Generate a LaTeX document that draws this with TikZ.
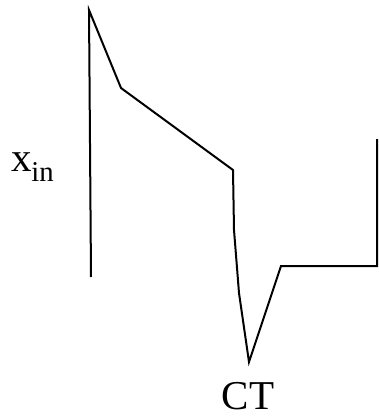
\documentclass[tikz,border=0pt]{standalone}
\usepackage{fontspec}
\setmainfont{Liberation Serif}
\begin{document}
\begin{tikzpicture}[x=1pt,y=-1pt,line width=2pt,
  lbl/.style={inner sep=0pt,font=\fontsize{41}{45}\selectfont}]
\useasboundingbox (0,0) rectangle (378,420);
\coordinate (a) at (91,277);
\coordinate (b) at (89,10);
\coordinate (c) at (121,88);
\coordinate (d) at (233,170);
\coordinate (e) at (234,230);
\coordinate (f) at (239,293);
\coordinate (g) at (249,362);
\coordinate (h) at (281,266);
\coordinate (i) at (377,266);
\coordinate (j) at (377,139);
\draw[line join=miter] (a) -- (b) -- (c) -- (d) -- (e) -- (f) -- (g) -- (h) -- (i) -- (j);
\node[lbl,anchor=base west] (xin) at (10,171) {x\textsubscript{in}};
\node[lbl,anchor=base] (ct) at (248,409) {CT};
\end{tikzpicture}
\end{document}
